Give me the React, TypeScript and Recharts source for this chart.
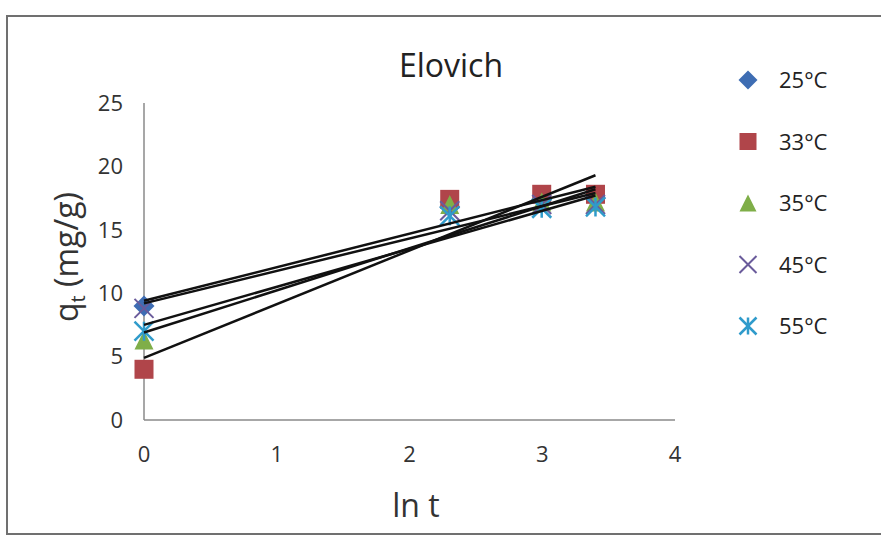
import { ComposedChart, Scatter, XAxis, YAxis } from 'recharts';

// ln t for t = 1, 10, 20, 30 min
const lnT = [0, 2.303, 2.996, 3.401];
const temps = ['25°C', '33°C', '35°C', '45°C', '55°C'];
const q25 = [9.0, 16.8, 17.4, 17.5];
const q33 = [4.0, 17.4, 17.8, 17.8];
const q35 = [6.3, 17.0, 17.2, 17.2];
const q45 = [8.8, 16.5, 17.0, 17.0];
const q55 = [7.0, 16.1, 16.7, 16.8];
// linear trendlines at ln t = 0 and at the last point
const trendX = [0, 3.401];
const trendStart = [9.4, 4.9, 6.9, 9.2, 7.5];
const trendEnd = [18.4, 19.3, 18.2, 17.9, 17.7];
const xTicks = [0, 1, 2, 3, 4];
const yTicks = [0, 5, 10, 15, 20, 25];

const colors = ['#3e6db3', '#b0454a', '#7fae48', '#6a5b9b', '#2f9bcb'];
const font = '"Open Sans", "Noto Sans", sans-serif';

type Kind = 'diamond' | 'square' | 'triangle' | 'cross' | 'star';
const kinds: Kind[] = ['diamond', 'square', 'triangle', 'cross', 'star'];

function marker(kind: Kind, cx: number, cy: number, s: number, color: string) {
  const h = s / 2;
  if (kind === 'diamond') {
    return <polygon points={`${cx},${cy - h - 1} ${cx + h + 1},${cy} ${cx},${cy + h + 1} ${cx - h - 1},${cy}`} fill={color} />;
  }
  if (kind === 'square') {
    return <rect x={cx - h} y={cy - h} width={s} height={s} fill={color} />;
  }
  if (kind === 'triangle') {
    return <polygon points={`${cx},${cy - h} ${cx + h},${cy + h} ${cx - h},${cy + h}`} fill={color} />;
  }
  if (kind === 'cross') {
    return (
      <g stroke={color} strokeWidth={2}>
        <line x1={cx - h} y1={cy - h} x2={cx + h} y2={cy + h} />
        <line x1={cx - h} y1={cy + h} x2={cx + h} y2={cy - h} />
      </g>
    );
  }
  return (
    <g stroke={color} strokeWidth={2.5}>
      <line x1={cx - h} y1={cy - h} x2={cx + h} y2={cy + h} />
      <line x1={cx - h} y1={cy + h} x2={cx + h} y2={cy - h} />
      <line x1={cx} y1={cy - h} x2={cx} y2={cy + h} />
    </g>
  );
}

const series = [q25, q33, q35, q45, q55].map((ys, i) => ({
  name: temps[i],
  kind: kinds[i],
  color: colors[i],
  data: lnT.map((x, j) => ({ x, y: ys[j] })),
}));

const trends = trendStart.map((y0, i) => ({
  name: `trend ${temps[i]}`,
  data: [
    { x: trendX[0], y: y0 },
    { x: trendX[1], y: trendEnd[i] },
  ],
}));

const noDot = () => <g />;

export default function App() {
  return (
    <div
      style={{
        position: 'absolute',
        left: 0,
        top: 0,
        width: 881,
        height: 535,
        overflow: 'hidden',
        background: '#fff',
        fontFamily: font,
      }}
    >
      <div
        style={{
          position: 'absolute',
          left: 6,
          top: 15,
          width: 900,
          height: 516,
          border: '2px solid #707070',
        }}
      />
      <ComposedChart width={881} height={535} margin={{ top: 103, right: 206, bottom: 75, left: 84 }}>
        <XAxis
          type="number"
          dataKey="x"
          domain={[0, 4]}
          ticks={xTicks}
          height={40}
          tickLine={false}
          tickSize={0}
          tickMargin={26}
          axisLine={{ stroke: '#8a8a8a', strokeWidth: 1.5 }}
          tick={{ fontSize: 22, fill: '#333', fontFamily: font }}
        />
        <YAxis
          type="number"
          dataKey="y"
          domain={[0, 25]}
          ticks={yTicks}
          width={60}
          tickLine={false}
          tickSize={0}
          tickMargin={21}
          axisLine={{ stroke: '#8a8a8a', strokeWidth: 1.5 }}
          tick={{ fontSize: 22, fill: '#333', fontFamily: font }}
        />
        {series.map((s) => (
          <Scatter
            key={s.name}
            name={s.name}
            data={s.data}
            isAnimationActive={false}
            shape={(p: any) => marker(s.kind, p.cx, p.cy, 19, s.color)}
          />
        ))}
        {trends.map((t) => (
          <Scatter
            key={t.name}
            name={t.name}
            data={t.data}
            isAnimationActive={false}
            line={{ stroke: '#111', strokeWidth: 2.5 }}
            shape={noDot}
            legendType="none"
          />
        ))}
      </ComposedChart>
      <svg width={881} height={535} style={{ position: 'absolute', left: 0, top: 0, pointerEvents: 'none' }}>
        <text x={451} y={77} textAnchor="middle" fontSize={32} fill="#222" fontFamily={font}>
          Elovich
        </text>
        <text x={416} y={517} textAnchor="middle" fontSize={32} fill="#333" fontFamily={font}>
          ln t
        </text>
        <text
          x={78}
          y={257}
          textAnchor="middle"
          fontSize={32}
          fill="#333"
          fontFamily={font}
          transform="rotate(-90, 78, 257)"
        >
          q<tspan fontSize={20} dy={7}>t</tspan>
          <tspan dy={-7}> (mg/g)</tspan>
        </text>
        {series.map((s, i) => {
          const cy = 80 + i * 61.5;
          return (
            <g key={s.name}>
              {marker(s.kind, 748, cy, 17, s.color)}
              <text x={779} y={cy + 8} fontSize={22} fill="#222" fontFamily={font}>
                {s.name}
              </text>
            </g>
          );
        })}
      </svg>
    </div>
  );
}
